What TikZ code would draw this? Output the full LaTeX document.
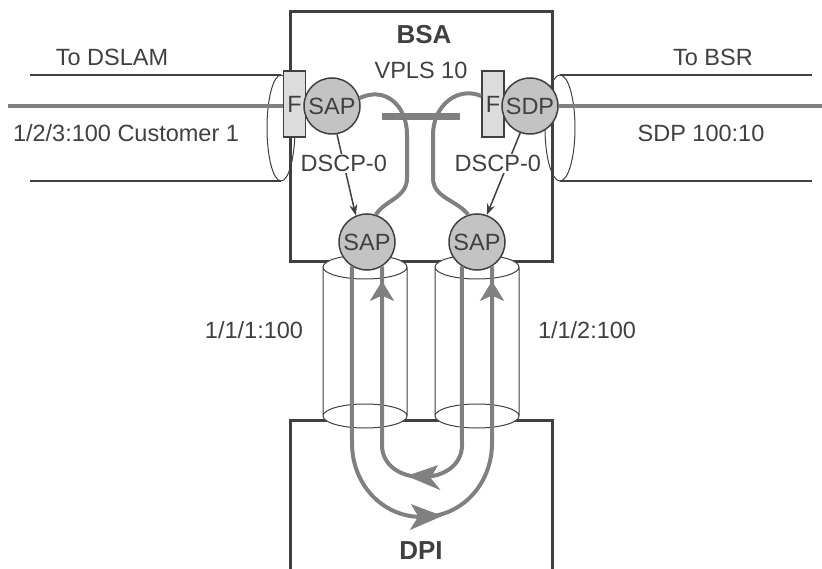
\documentclass[tikz,border=0pt]{standalone}
\usepackage{fontspec}
\setmainfont{Liberation Sans}
\usepackage{tikz}
\usetikzlibrary{shapes,arrows.meta,positioning,calc}
\definecolor{linegray}{RGB}{64,64,64}
\definecolor{flowgray}{RGB}{128,128,128}
\definecolor{sapgray}{RGB}{195,195,195}
\definecolor{filtergray}{RGB}{220,220,220}

\begin{document}
\begin{tikzpicture}[
        x=1pt, y=-1pt,
        font=\fontsize{23.5}{28}\selectfont, text=linegray,
        box/.style={draw=linegray, line width=3pt},
        cable/.style={draw=linegray, line width=1.5pt},
        ring/.style={draw=linegray, line width=1pt},
        trunk/.style={draw=flowgray, line width=4pt},
        head/.style={draw=flowgray, fill=flowgray, line width=1pt, line join=miter},
        sap/.style={circle, draw=linegray, line width=1.5pt, fill=sapgray, minimum size=56pt, inner sep=0pt},
        filter/.style={rectangle, draw=linegray, line width=1.5pt, fill=filtergray, minimum width=22pt, minimum height=66pt, inner sep=0pt},
        qos/.style={draw=linegray, line width=1.5pt, -{Stealth[length=11pt, width=8pt]}},
        tag/.style={fill=white, inner sep=1pt},
        title/.style={font=\fontsize{26}{30}\selectfont\bfseries}
    ]
        \useasboundingbox (0,0) rectangle (822,569);

        % Boxes
        \node[box, minimum width=262pt, minimum height=250pt, inner sep=0pt] (bsa) at (421,137) {};
        \draw[box] (290,569) |- (552,420) -- (552,569);

        % Access and network cables
        \draw[cable] (30,75) -- (281,75) (30,181) -- (281,181);
        \draw[ring] (281,128) ellipse (14 and 53);
        \draw[cable] (560,75) -- (812,75) (560,181) -- (812,181);
        \draw[ring] (560,128) ellipse (15 and 53);

        % Port cylinders
        \fill[white] (323,267) rectangle (407,416) (365,267) ellipse (42 and 12) (365,416) ellipse (42 and 12);
        \draw[ring] (323,267) -- (323,416) (407,267) -- (407,416) (365,267) ellipse (42 and 12) (365,416) ellipse (42 and 12);
        \fill[white] (435,267) rectangle (519,416) (477,267) ellipse (42 and 12) (477,416) ellipse (42 and 12);
        \draw[ring] (435,267) -- (435,416) (519,267) -- (519,416) (477,267) ellipse (42 and 12) (477,416) ellipse (42 and 12);

        % Filters and service points
        \node[filter] (fL) at (294.5,104) {F};
        \node[sap] (sapA) at (332,106) {SAP};
        \node[filter] (fR) at (493,104) {F};
        \node[sap] (sdp) at (530,106) {SDP};
        \node[sap] (sapL) at (367,242) {SAP};
        \node[sap] (sapR) at (477,242) {SAP};

        \draw[trunk] (8,106) -- (fL.west |- sapA);
        \draw[trunk] (sdp.east) -- (822,106);

        % VPLS
        \draw[trunk] (sapA.16) .. controls (385,86) and (407,105) .. (407,135) -- (407,178) .. controls (407,198) and (385,200) .. (sapL.72);
        \draw[trunk] ([yshift=8pt]fR.west) .. controls (458,86) and (433,105) .. (433,135) -- (433,178) .. controls (433,198) and (457,200) .. (sapR.108);
        \node[fill=flowgray, minimum width=78pt, minimum height=7pt, inner sep=0pt] (vplsbar) at (421,117) {};

        % Loops through DPI
        \draw[trunk] (sapL.-122) -- (352,443) .. controls (352,484) and (382,517) .. (422,517) .. controls (462,517) and (492,484) .. (492,443) -- (sapR.-58);
        \draw[trunk] (sapR.-122) -- (462,445) .. controls (462,465) and (444,477) .. (422,477) .. controls (400,477) and (382,465) .. (382,445) -- (sapL.-58);

        % Arrow heads on the loops
        \draw[head] (441,516) -- (412,505) -- (419,516.5) -- (411,529) -- cycle;
        \draw[head] (408,476) -- (437,466) -- (430,478) -- (439,489) -- cycle;
        \draw[head] (382,282) -- (371,300) -- (382,295) -- (393,300) -- cycle;
        \draw[head] (492,282) -- (481,300) -- (492,295) -- (503,300) -- cycle;

        % Marking
        \draw[qos] (sapA.-80) -- node[tag, pos=0.36]{DSCP-0} (sapL.113);
        \draw[qos] (sdp.-110) -- node[tag, pos=0.37, xshift=-10pt]{DSCP-0} (sapR.70);

        % Labels
        \node[title] (bsalbl) at (424,35) {BSA};
        \node[title] (dpilbl) at (421,551) {DPI};
        \node (vpls) at (421,70) {VPLS 10};
        \node (dslam) at (112,57) {To DSLAM};
        \node (cust) at (126,133) {1/2/3:100 Customer 1};
        \node (bsr) at (713,57) {To BSR};
        \node (sdplbl) at (701,133) {SDP 100:10};
        \node (porta) at (254,330) {1/1/1:100};
        \node (portb) at (587,330) {1/1/2:100};

    \end{tikzpicture}
\end{document}
